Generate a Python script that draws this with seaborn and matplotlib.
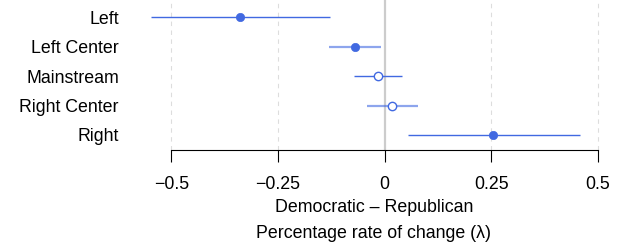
import numpy as np
import pandas as pd
import matplotlib
matplotlib.use("Agg")
import matplotlib.pyplot as plt
import seaborn as sns

# Estimates
groups = ["Left", "Left Center", "Mainstream", "Right Center", "Right"]
estimate = [-0.338, -0.070, -0.016, 0.018, 0.255]
ci_low = [-0.547, -0.130, -0.072, -0.042, 0.055]
ci_high = [-0.127, -0.008, 0.041, 0.079, 0.458]
significant = [True, True, False, False, True]
ci_alpha = [1.0, 0.6, 1.0, 0.6, 1.0]
xticks = [-0.5, -0.25, 0, 0.25, 0.5]
xtick_labels = ["\u22120.5", "\u22120.25", "0", "0.25", "0.5"]

BLUE = "#4169E1"
FS = 12.8

sns.set_theme(style="white")
plt.rcParams["font.family"] = ["Liberation Sans", "DejaVu Sans"]
plt.rcParams["text.color"] = "black"
plt.rcParams["xtick.color"] = "black"
plt.rcParams["ytick.color"] = "black"

df = pd.DataFrame({"group": groups, "est": estimate, "lo": ci_low,
                   "hi": ci_high, "sig": significant, "alpha": ci_alpha})
df["y"] = np.arange(len(df))

fig = plt.figure(figsize=(6.23, 2.48), dpi=100)
ax = fig.add_axes([130 / 623, 98 / 248, 493 / 623, 150 / 248])

# reference lines
for t in xticks:
    if t == 0:
        ax.axvline(0, color="#cccccc", lw=1.6, zorder=0)
    else:
        ax.axvline(t, color="#dddddd", lw=0.8, ls=(0, (4, 4)), zorder=0)

# confidence intervals
for _, r in df.iterrows():
    ax.plot([r["lo"], r["hi"]], [r["y"], r["y"]], color=BLUE,
            lw=1.0 if r["alpha"] == 1 else 1.6, alpha=r["alpha"],
            solid_capstyle="butt", zorder=2)

sig = df[df["sig"]]
nonsig = df[~df["sig"]]
sns.scatterplot(data=sig, x="est", y="y", ax=ax, color=BLUE, s=36,
                edgecolor=BLUE, linewidth=0.5, zorder=3, legend=False)
sns.scatterplot(data=nonsig, x="est", y="y", ax=ax, facecolor="white",
                edgecolor=BLUE, s=36, linewidth=1.0, zorder=3, legend=False)

ax.set_xlim(-0.597, 0.559)
ax.set_ylim(4.51, -0.58)
ax.set_yticks(df["y"])
ax.set_yticklabels(groups, fontsize=FS)
ax.set_xticks(xticks)
ax.set_xticklabels(xtick_labels, fontsize=FS)
ax.tick_params(axis="y", length=0, pad=8)
ax.tick_params(axis="x", length=8.5, width=0.8, color="black",
               direction="out", pad=10.5, bottom=True)
ax.set_xlabel("")
ax.set_ylabel("")

for s in ["top", "right", "left"]:
    ax.spines[s].set_visible(False)
ax.spines["bottom"].set_bounds(-0.5, 0.5)
ax.spines["bottom"].set_color("black")
ax.spines["bottom"].set_linewidth(0.8)

fig.text(374 / 623, 1 - 207 / 248, "Democratic \u2013 Republican",
         ha="center", va="center", fontsize=FS)
fig.text(374 / 623, 1 - 234 / 248, "Percentage rate of change (\u03bb)",
         ha="center", va="center", fontsize=FS)

fig.savefig("out.png", dpi=100)
